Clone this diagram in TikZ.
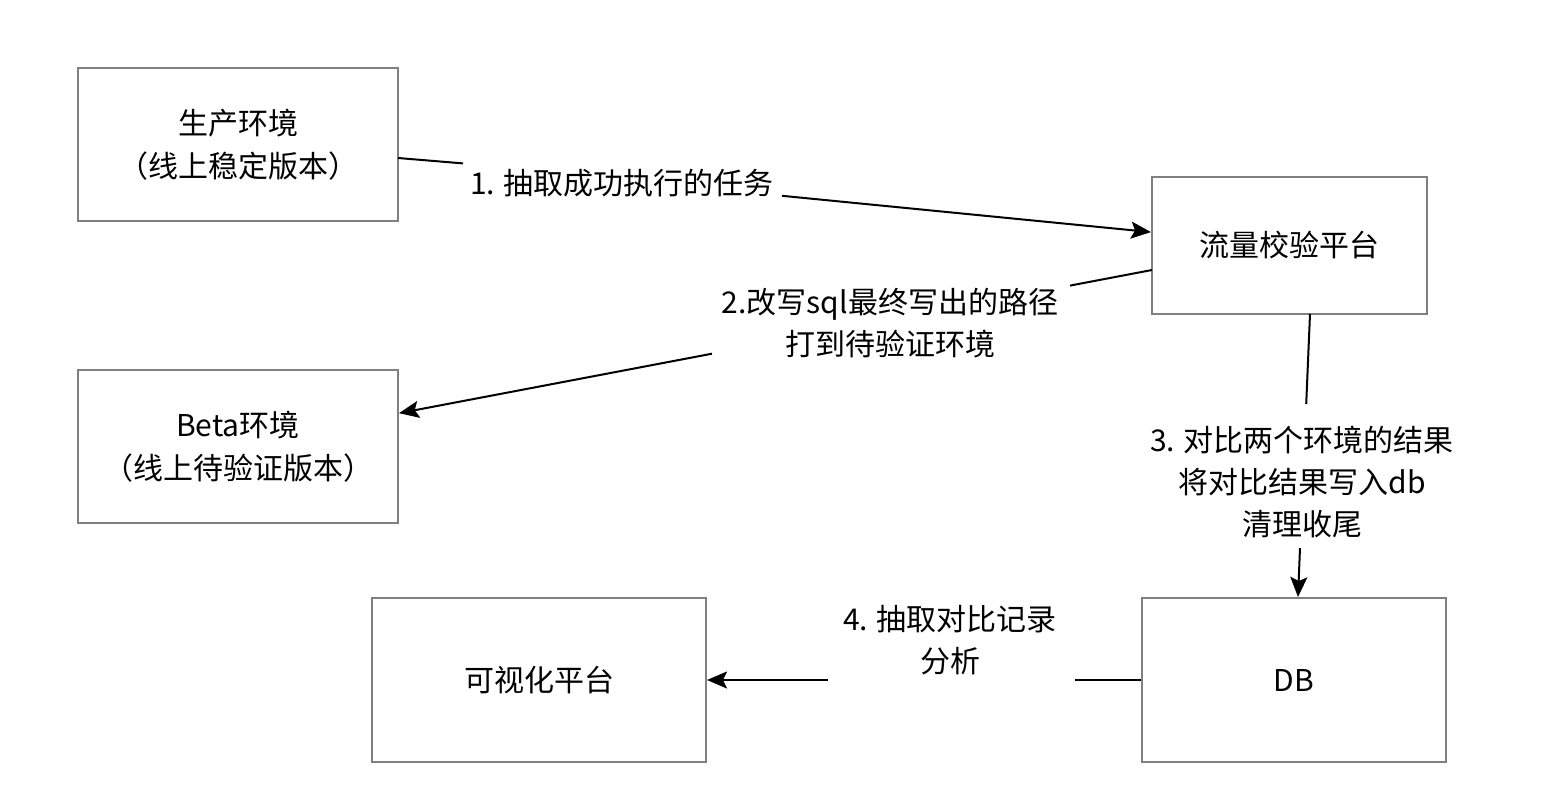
\documentclass[tikz,border=0pt]{standalone}
\usepackage{fontspec}
\setmainfont{Noto Sans CJK SC}
\usetikzlibrary{arrows.meta}
\begin{document}
\begin{tikzpicture}[x=1pt,y=-1pt,
  box/.style={draw=black!50,line width=2pt,fill=white,minimum width=#1,inner sep=0pt,align=center,font=\fontsize{30}{43}\selectfont},
  lbl/.style={align=center,font=\fontsize{30}{42}\selectfont,inner sep=0pt},
  conn/.style={draw=black,line width=2pt},
  arr/.style={conn,-{Stealth[length=20pt,width=17pt,inset=4pt]}}]
\useasboundingbox (0,0) rectangle (1544,808);
\node[box=320pt,minimum height=153pt] (prod) at (238,144.5) {生产环境\\（线上稳定版本）};
\node[box=275pt,minimum height=137pt] (plat) at (1289.5,245.5) {流量校验平台};
\node[box=320pt,minimum height=153pt] (beta) at (238,446.5) {Beta环境\\（线上待验证版本）};
\node[box=334pt,minimum height=164pt] (vis) at (539,680) {可视化平台};
\node[box=304pt,minimum height=164pt] (db) at (1294,680) {DB};
% labels
\node[lbl] (l1) at (622,183) {1. 抽取成功执行的任务};
\node[lbl] (l2) at (890,323) {2.改写sql最终写出的路径\\打到待验证环境};
\node[lbl] (l3) at (1302,482) {3. 对比两个环境的结果\\将对比结果写入db\\清理收尾};
\node[lbl] (l4) at (950,640) {4. 抽取对比记录\\分析};
% gap coordinates
\coordinate (s1) at (398,158);
\coordinate (a1) at (463,163.4);
\coordinate (b1) at (782,195.8);
\coordinate (e1) at (1151,232.1);
\coordinate (s2) at (1152,270);
\coordinate (a2) at (1070,285.6);
\coordinate (b2) at (712,353.7);
\coordinate (e2) at (399,413.2);
\coordinate (s3) at (1310,314);
\coordinate (a3) at (1306.2,404);
\coordinate (b3) at (1300,548);
\coordinate (e3) at (1298,597);
\coordinate (a4) at (1075,680);
\coordinate (b4) at (828,680);
% connectors
\draw[conn] (s1) -- (a1);
\draw[arr] (b1) -- (e1);
\draw[conn] (s2) -- (a2);
\draw[arr] (b2) -- (e2);
\draw[conn] (s3) -- (a3);
\draw[arr] (b3) -- (e3);
\draw[conn] (db.west) -- (a4);
\draw[arr] (b4) -- (vis.east);
\end{tikzpicture}
\end{document}
